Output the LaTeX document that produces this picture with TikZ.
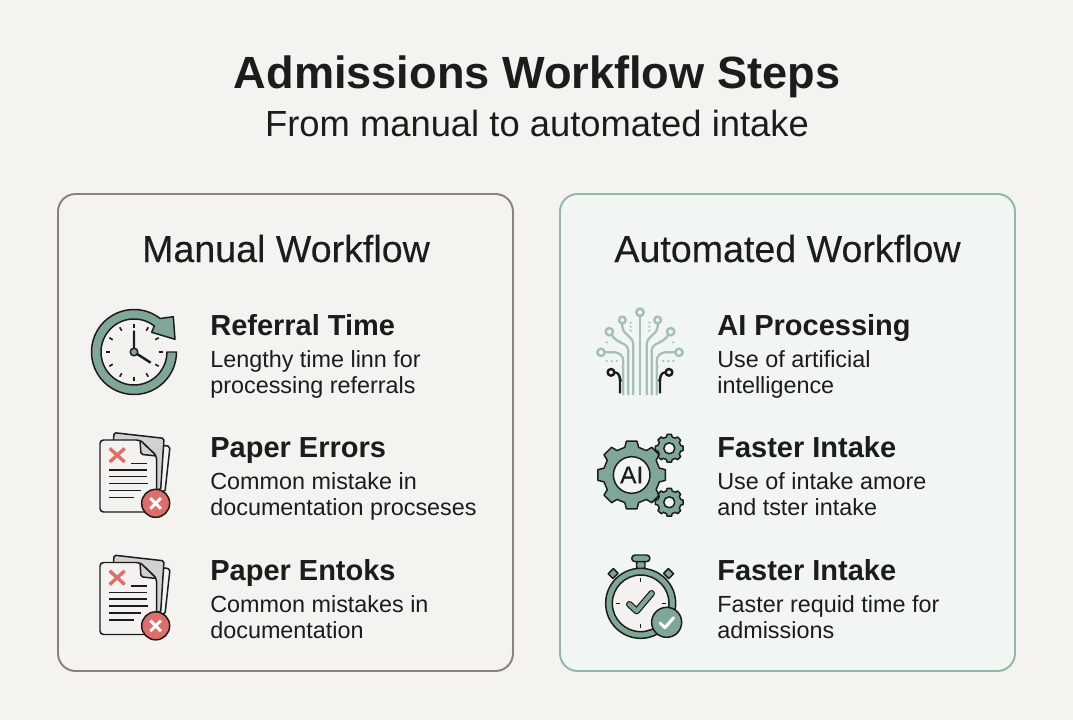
\documentclass[tikz,border=0pt]{standalone}
\usepackage{fontspec}
\setmainfont{Liberation Sans}
\newfontfamily\mediumfont[FakeBold=0.25]{Liberation Sans}
\usepackage{tikz,xcolor}
\usetikzlibrary{calc}

\definecolor{paper}{HTML}{F4F3EF}
\definecolor{autofill}{HTML}{F1F6F3}
\definecolor{greenline}{HTML}{8FB8A5}
\definecolor{brownline}{HTML}{8A8379}
\definecolor{sage}{HTML}{7FA797}
\definecolor{pale}{HTML}{A3C2B4}
\definecolor{ink}{HTML}{1C1C1C}
\definecolor{redx}{HTML}{DF6D69}
\definecolor{sheet}{HTML}{F3F2EE}
\definecolor{fold}{HTML}{D2D1CD}

\tikzset{
	headline/.style={anchor=base, inner sep=0pt, text=ink, font=\fontsize{25.7}{30}\selectfont\bfseries},
	subline/.style={anchor=base, inner sep=0pt, text=ink, font=\fontsize{20.7}{24}\selectfont},
	paneltitle/.style={anchor=base, inner sep=0pt, text=ink, font=\fontsize{21.4}{24}\mediumfont},
	itemtitle/.style={anchor=base west, inner sep=0pt, text=ink, font=\fontsize{16.5}{20}\selectfont\bfseries},
	itembody/.style={anchor=north west, inner sep=0pt, align=left, text=ink, font=\fontsize{13.3}{14.7}\selectfont},
	iconline/.style={draw=ink, line width=0.85pt, line join=round},
	trace/.style={line width=1.3pt, rounded corners=2pt},
	gearicon/.pic={
		\filldraw[iconline, fill=sage] (-14:#1) \foreach \a in {0,45,...,315} {
			-- (\a-14:#1) -- (\a-9:#1*1.2) -- (\a+9:#1*1.2) -- (\a+14:#1) -- (\a+31:#1)
		} -- cycle;
	},
	docicon/.pic={
		\begin{scope}[scale=1/3]
			\filldraw[iconline, fill=sheet, rounded corners=1pt] (220,75) -- (240,80) -- (225,215) -- (190,215) -- cycle;
			\filldraw[iconline, fill=fold, rounded corners=1pt] (72,38) -- (222,55) -- (212,210) -- (150,200) -- (70,70) -- cycle;
			\filldraw[iconline, fill=sheet, rounded corners=2pt] (30,60) -- (150,60) -- (200,108) -- (200,276) -- (30,276) -- cycle;
			\filldraw[iconline, fill=fold, rounded corners=1pt] (150,60) -- (153,103) -- (200,108) -- cycle;
			\draw[redx, line width=1.9pt] (59,85) -- (104,126) (104,85) -- (59,126);
			\draw[ink, line width=0.8pt] (122,130) -- (170,130) (58,150) -- (170,150) (58,170) -- (170,170)
				(58,191) -- (175,191) (58,212) -- (152,212) (58,232) -- (132,232);
			\filldraw[iconline, fill=redx] (197,250) circle (42);
			\draw[white, line width=1.7pt] (181,234) -- (213,266) (213,234) -- (181,266);
		\end{scope}
	}
}

\begin{document}
\begin{tikzpicture}[x=0.02cm, y=-0.02cm]

	\fill[paper] (0,0) rectangle (1073,720);
	\useasboundingbox (0,0) rectangle (1073,720);

	% title
	\node[headline] (title) at (537,89) {Admissions Workflow Steps};
	\node[subline] (subtitle) at (537,136) {From manual to automated intake};

	% the two panels
	\draw[brownline, line width=1.1pt, rounded corners=10pt] (58,194) rectangle (513,671);
	\filldraw[draw=greenline, fill=autofill, line width=1.1pt, rounded corners=10pt] (560,194) rectangle (1015,671);

	\node[paneltitle] (manual) at (286,262) {Manual Workflow};
	\node[paneltitle] (automated) at (787.5,262) {Automated Workflow};

	% left column
	\node[itemtitle] (referral) at (210,335) {Referral Time};
	\node[itembody] (referraltext) at (210,350) {Lengthy time linn for\\processing referrals};
	\node[itemtitle] (errors) at (210,457) {Paper Errors};
	\node[itembody] (errorstext) at (210,472) {Common mistake in\\documentation procseses};
	\node[itemtitle] (entoks) at (210,580) {Paper Entoks};
	\node[itembody] (entokstext) at (210,595) {Common mistakes in\\documentation};

	% right column
	\node[itemtitle] (processing) at (717,335) {AI Processing};
	\node[itembody] (processingtext) at (717,350) {Use of artificial\\intelligence};
	\node[itemtitle] (intake) at (717,457) {Faster Intake};
	\node[itembody] (intaketext) at (717,472) {Use of intake amore\\and tster intake};
	\node[itemtitle] (faster) at (717,580) {Faster Intake};
	\node[itembody] (fastertext) at (717,595) {Faster requid time for\\admissions};

	% clock
	\begin{scope}[shift={(134,352)}]
		\fill[sheet] (0,0) circle (33);
		\filldraw[iconline, fill=sage] (0:42.5) arc (0:308:42.5) -- (39.3,-35.3) -- (41,-12.7) -- (17.7,-19.7)
			-- (308:33) arc (308:0:33) -- cycle;
		\foreach \a in {0,30,...,330} {
			\draw[ink, line width=0.9pt] (\a:24.5) -- (\a:28.5);
		}
		\draw[ink, line width=1.4pt] (0,0) -- (0,-21.3) (0,0) -- (16.7,10.7);
		\filldraw[iconline, fill=sage] (0,0) circle (3.8);
	\end{scope}

	% paper stacks
	\pic at (90,420) {docicon};
	\pic at (90,542.5) {docicon};

	% circuit tree
	\begin{scope}[shift={(640,300)}, scale=1/3]
		\draw[pale, trace] (0,47) -- (0,285);
		\filldraw[draw=pale, fill=autofill, line width=1.4pt] (0,37) circle (11);
		\foreach \s in {1,-1} {
			\begin{scope}[xscale=\s]
				\draw[pale, trace] (53,69) -- (53,90) -- (20,122) -- (20,285);
				\draw[pale, trace] (85,104) -- (80,115) -- (35,140) -- (35,285);
				\draw[pale, trace] (107,157) -- (65,157) -- (50,172) -- (50,285);
				\draw[ink, trace] (78,217) -- (65,217) -- (60,235) -- (60,280);
				\filldraw[draw=pale, fill=autofill, line width=1.4pt] (53,60) circle (10);
				\filldraw[draw=pale, fill=autofill, line width=1.4pt] (92,95) circle (11);
				\filldraw[draw=pale, fill=autofill, line width=1.4pt] (117,157) circle (11);
				\filldraw[draw=ink, fill=autofill, line width=1.4pt] (87,217) circle (10);
				\foreach \p in {(28,68), (28,80), (28,92), (70,183), (85,183), (100,183), (100,127), (53,200)} {
					\fill[pale] \p circle (3.5);
				}
			\end{scope}
		}
	\end{scope}

	% gears
	\pic at (631.7,475) {gearicon=28.5};
	\pic at (669.3,448.3) {gearicon=11.7};
	\pic at (669.3,502.3) {gearicon=11.7};
	\filldraw[iconline, fill=autofill] (631.7,475) circle (18.3);
	\filldraw[iconline, fill=autofill] (669.3,448.3) circle (5.5);
	\filldraw[iconline, fill=autofill] (669.3,502.3) circle (5.5);
	\node[inner sep=0pt, text=ink, font=\fontsize{14}{16}\mediumfont] (gearlabel) at (631.7,475) {AI};

	% stopwatch
	\begin{scope}[shift={(595,545)}, scale=1/3]
		\filldraw[iconline, fill=sage, rounded corners=1pt] (125,48) rectangle (150,72);
		\filldraw[iconline, fill=sage, rounded corners=2pt] (110,30) rectangle (165,50);
		\filldraw[iconline, fill=sage, rotate around={-45:(55,85)}] (45,75) rectangle (65,97);
		\filldraw[iconline, fill=sage, rotate around={45:(220,85)}] (210,75) rectangle (230,97);
		\filldraw[iconline, fill=sage] (137,175) circle (105);
		\filldraw[iconline, fill=sheet] (137,175) circle (85);
		\draw[ink, line width=0.9pt] (137,100) -- (137,112) (137,238) -- (137,250) (62,175) -- (74,175) (200,175) -- (212,175);
		\draw[ink, line width=3.8pt, line cap=round, line join=round] (103,178) -- (125,198) -- (170,145);
		\draw[sage, line width=2.4pt, line cap=round, line join=round] (103,178) -- (125,198) -- (170,145);
		\filldraw[iconline, fill=sage] (215,232) circle (45);
		\draw[white, line width=1.7pt, line cap=round, line join=round] (195,234) -- (210,248) -- (236,218);
	\end{scope}

\end{tikzpicture}
\end{document}
